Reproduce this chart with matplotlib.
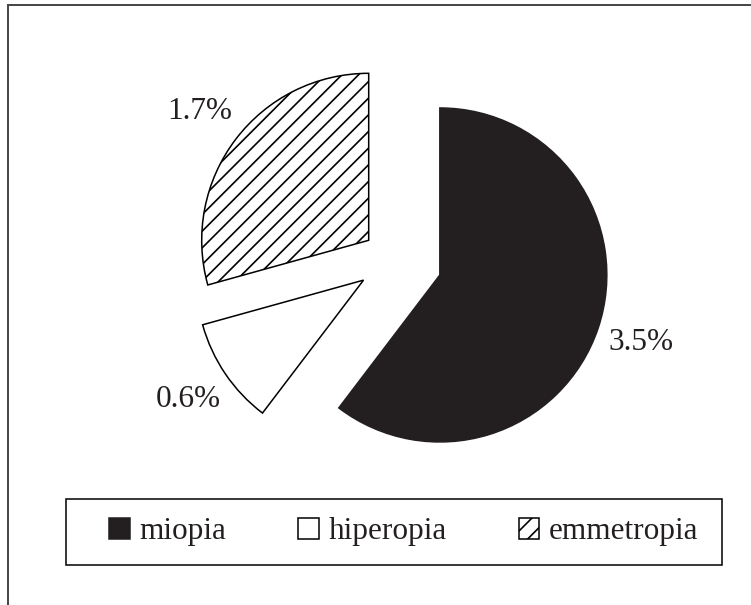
import matplotlib
matplotlib.use("Agg")
import matplotlib.pyplot as plt
from matplotlib.patches import Rectangle

# refraction groups and their shares (%)
categories = ["miopia", "hiperopia", "emmetropia"]
values = [3.5, 0.6, 1.7]
pct_labels = [f"{v}%" for v in values]

colors = ["#231f20", "white", "white"]
hatches = [None, None, "//"]
explode = [0.29, 0.22, 0.19]

plt.rcParams["font.family"] = ["Liberation Serif", "DejaVu Serif"]
plt.rcParams["hatch.linewidth"] = 1.2

fig = plt.figure(figsize=(7.51, 6.05), dpi=100)
ax = fig.add_axes([0, 0, 1, 1])

wedges, texts = ax.pie(
    values,
    labels=pct_labels,
    colors=colors,
    explode=explode,
    startangle=90,
    counterclock=False,
    radius=1,
    labeldistance=1.27,
    textprops={"fontsize": 22.5, "ha": "center", "va": "center", "color": "#231f20"},
    wedgeprops={"edgecolor": "black", "linewidth": 1.1},
)
for w, h in zip(wedges, hatches):
    if h:
        w.set_hatch(h)
wedges[0].set_edgecolor(colors[0])

# scale: one radius ~ 167 px
ax.set_xlim(-2.359, 2.138)
ax.set_ylim(-2.069, 1.554)
ax.axis("off")

leg = fig.legend(
    wedges, categories,
    loc="center", bbox_to_anchor=(0.538, 0.1207),
    ncol=3, fontsize=22.5, frameon=False,
    handlelength=0.65, handleheight=0.65, handletextpad=0.32,
    columnspacing=2.3, borderpad=0.55, borderaxespad=0,
)
for t in leg.get_texts():
    t.set_color("#231f20")

# legend box, wider on the left as in the original
fig.add_artist(Rectangle((66 / 751, 1 - 565 / 605), 656 / 751, 66 / 605,
                         transform=fig.transFigure, fill=False,
                         edgecolor="black", linewidth=1.1))

# cropped outer frame (top and left edges only visible)
fig.add_artist(Rectangle((8.3 / 751, -0.05), 1.2, 1.05 - 4.5 / 605,
                         transform=fig.transFigure, fill=False,
                         edgecolor="#444444", linewidth=1.4))

fig.savefig("out.png", dpi=100)
